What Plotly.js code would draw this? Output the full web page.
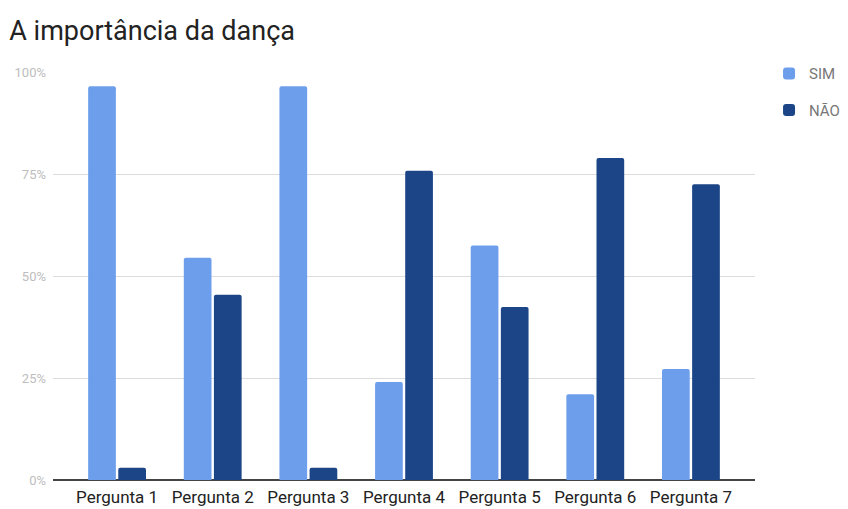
<!DOCTYPE html>
<html>
<head>
<meta charset="utf-8">
<script src="https://cdn.plot.ly/plotly-3.0.1.min.js"></script>
<style>html,body{margin:0;padding:0;background:#fff;}#chart{width:848px;height:509px;}</style>
</head>
<body>
<div id="chart"></div>
<script>
const categories = ["Pergunta 1","Pergunta 2","Pergunta 3","Pergunta 4","Pergunta 5","Pergunta 6","Pergunta 7"];
const simValues = [96.5, 54.5, 96.5, 24, 57.5, 21, 27.2];
const naoValues = [3, 45.4, 3, 75.8, 42.4, 78.9, 72.5];
const yTicks = [0, 25, 50, 75, 100];
const yTickLabels = ["0%", "25%", "50%", "75%", "100%"];

const traces = [
  {type:"bar", name:"SIM", x:categories, y:simValues, legendgroup:"a",
   marker:{color:"#6d9eeb", cornerradius:2}, hoverinfo:"skip"},
  {type:"bar", name:"NÃO", x:categories, y:naoValues, legendgroup:"b",
   marker:{color:"#1c4587", cornerradius:2}, hoverinfo:"skip"}
];

const layout = {
  width:848, height:509,
  paper_bgcolor:"#fff", plot_bgcolor:"#fff",
  font:{family:"Roboto, Arial, sans-serif", color:"#222"},
  margin:{l:53, r:93, t:72, b:29, autoexpand:false},
  title:{text:"A importância da dança", x:0.011, xanchor:"left", y:0.94, yanchor:"middle",
         font:{size:27, color:"#222", family:"Roboto, Arial, sans-serif"}},
  barmode:"group", bargap:0.37, bargroupgap:0.08,
  xaxis:{type:"category", range:[-0.67, 6.67], showgrid:false, zeroline:false, automargin:false,
         showline:false, ticks:"", tickfont:{size:17, color:"#222"}, ticklabelstandoff:5},
  yaxis:{range:[0,100], tickvals:yTicks, ticktext:yTickLabels, showgrid:true, automargin:false,
         gridcolor:"#dcdcdc", gridwidth:1, zeroline:true, zerolinecolor:"#444", zerolinewidth:1.5,
         showline:false, ticks:"", tickfont:{size:13, color:"#bdbdbd"}, ticklabelstandoff:6},
  showlegend:true,
  legend:{x:1.02, xanchor:"left", y:1.036, yanchor:"top", tracegroupgap:14,
          font:{size:15, color:"#777"}, bgcolor:"rgba(0,0,0,0)"}
};

Plotly.newPlot("chart", traces, layout, {displayModeBar:false, staticPlot:true});
</script>
</body>
</html>
